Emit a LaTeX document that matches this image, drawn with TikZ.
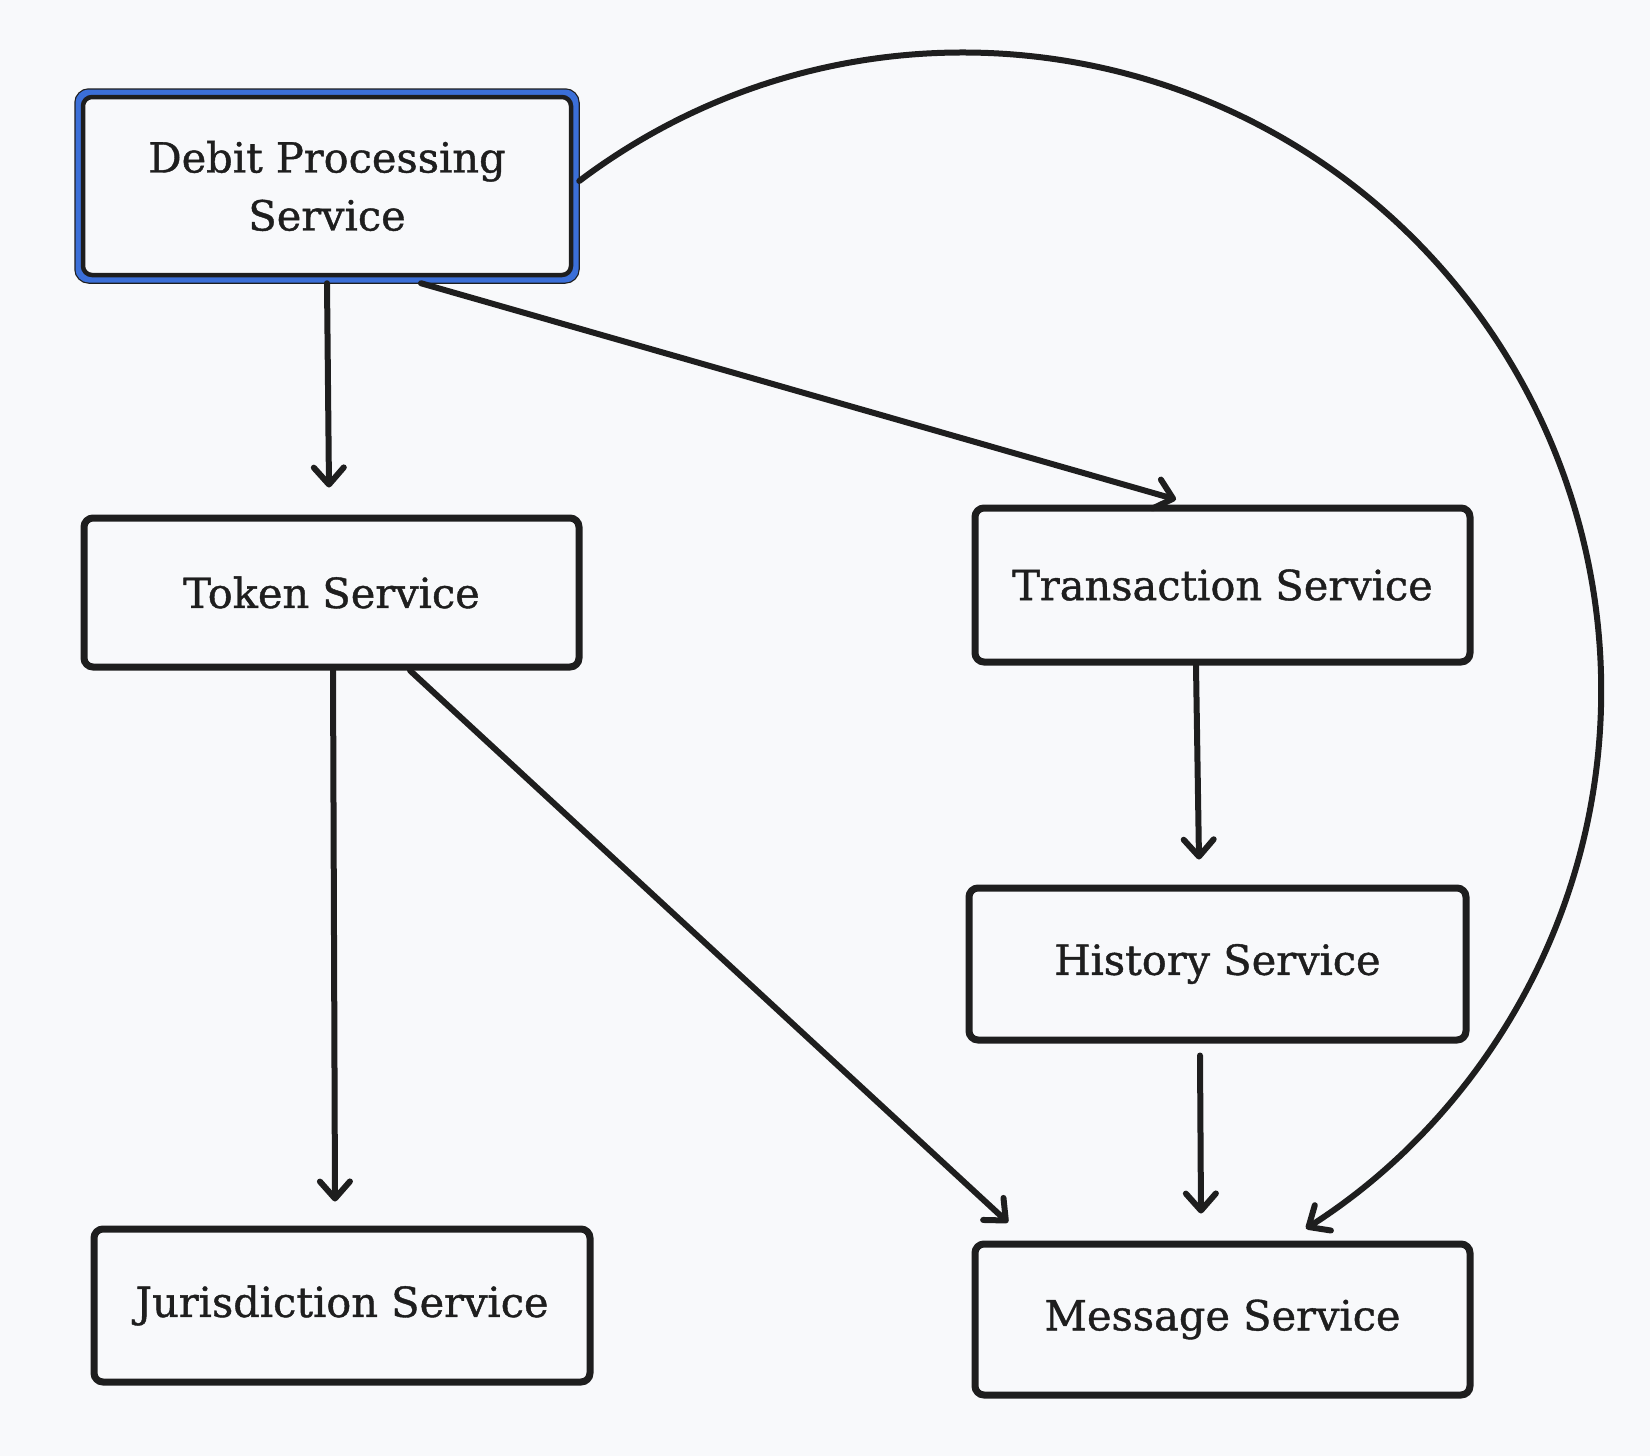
\documentclass[tikz,border=0pt]{standalone}
\usepackage{fontspec}
\setmainfont{DejaVu Serif}
\newfontfamily\lblfont{DejaVu Serif}[FakeBold=1]
\usetikzlibrary{arrows.meta}
\definecolor{bg}{HTML}{F8F9FB}
\definecolor{ink}{HTML}{1E1E1E}
\definecolor{sel}{HTML}{3B6FD8}
\begin{document}
\begin{tikzpicture}[x=1pt,y=-1pt,
  svc/.style={draw=ink, line width=7pt, rounded corners=9pt, fill=bg, text=ink,
    font=\lblfont\fontsize{41.5}{58}\selectfont, align=center, inner sep=0pt},
  conn/.style={draw=ink, line width=6pt, line cap=round,
    -{Straight Barb[length=17pt,width=30pt,round]}}
]
\fill[bg] (0,0) rectangle (1650,1456);
\useasboundingbox (0,0) rectangle (1650,1456);
% selection outline of Debit box
\draw[ink, line width=9.5pt, rounded corners=10pt] (79,93) rectangle (575,279);
\draw[sel, line width=7pt, rounded corners=10pt] (79,93) rectangle (575,279);
\node[svc, minimum width=488pt, minimum height=178pt, line width=4.5pt] (debit) at (327,186) {Debit Processing\\Service};
\node[svc, minimum width=495pt, minimum height=149pt] (token) at (331.5,592.5) {Token Service};
\node[svc, minimum width=495pt, minimum height=154pt] (trans) at (1222.5,585) {Transaction Service};
\node[svc, minimum width=497pt, minimum height=152pt] (hist) at (1217.5,964) {History Service};
\node[svc, minimum width=496pt, minimum height=153pt] (juris) at (342,1305.5) {Jurisdiction Service};
\node[svc, minimum width=495pt, minimum height=151pt] (msg) at (1222.5,1319.5) {Message Service};

\draw[conn] ([yshift=-6pt]debit.south) -- ([xshift=-2.5pt,yshift=27pt]token.north);
\draw[conn] ([xshift=94pt,yshift=-6pt]debit.south) -- ([xshift=-46.5pt,yshift=5pt]trans.north);
\draw[conn] ([xshift=1.5pt]token.south) -- ([xshift=-7pt,yshift=24pt]juris.north);
\draw[conn] ([xshift=78.5pt]token.south) -- ([xshift=-214.5pt,yshift=18pt]msg.north);
\draw[conn] ([xshift=-26.5pt]trans.south) -- ([xshift=-18.5pt,yshift=25pt]hist.north);
\draw[conn] ([xshift=-17.5pt,yshift=-12pt]hist.south) -- ([xshift=-21.5pt,yshift=27pt]msg.north);
\draw[conn] ([xshift=6pt,yshift=5pt]debit.east) arc[start angle=127, end angle=-57.5, radius=638pt];
\end{tikzpicture}
\end{document}
